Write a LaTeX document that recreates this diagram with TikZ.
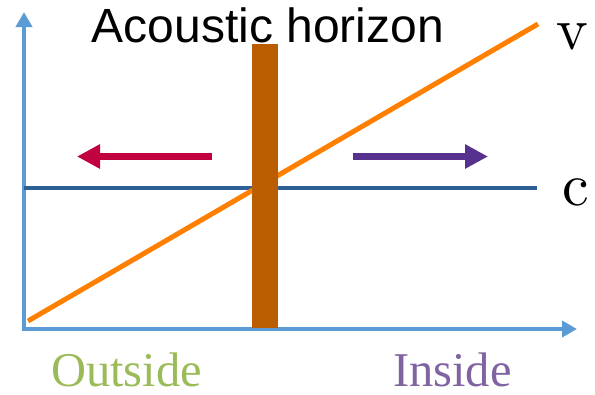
\documentclass[tikz,border=0pt]{standalone}
\usepackage{fontspec}
\newfontfamily\titlefont{Liberation Sans}
\newfontfamily\labelfont{Liberation Serif}
\newfontfamily\cmten{lmroman10-regular.otf}
\usetikzlibrary{arrows.meta}
\definecolor{axisblue}{HTML}{5B9BD5}
\definecolor{cblue}{HTML}{2E6096}
\definecolor{vorange}{HTML}{FF8000}
\definecolor{horizonbrown}{HTML}{BA5C00}
\definecolor{outred}{HTML}{C0003F}
\definecolor{inpurple}{HTML}{58308E}
\definecolor{outgreen}{HTML}{9BBB59}
\definecolor{inviolet}{HTML}{8064A2}
\tikzset{
  axisline/.style={draw=axisblue, line width=4.5pt, -{Triangle[length=15pt,width=16pt]}},
  flowarrow/.style={line width=6.5pt, -{Triangle[length=23pt,width=23pt]}},
  bigtext/.style={inner sep=0pt, anchor=base},
}
\begin{document}
\begin{tikzpicture}[x=1pt,y=-1pt]
\useasboundingbox (0,0) rectangle (595,394);
% axes
\coordinate (O) at (24,329);
\coordinate (ytop) at (24,12);
\coordinate (xend) at (577,329);
\coordinate (Ox) at (21.75,329);
\coordinate (Oy) at (24,331.25);
\draw[axisline] (Oy) -- (ytop);
\draw[axisline] (Ox) -- (xend);
% c line
\coordinate (cstart) at (24,188);
\coordinate (cend) at (537,188);
\draw[cblue, line width=4pt] (cstart) -- (cend);
% v line
\coordinate (vstart) at (28,321);
\coordinate (vend) at (538,24);
\draw[vorange, line width=5pt] (vstart) -- (vend);
% horizon bar
\fill[horizonbrown] (252,44) rectangle (278,328);
% flow arrows
\coordinate (rs) at (212,156.5);
\coordinate (re) at (77,156.5);
\draw[flowarrow, outred] (rs) -- (re);
\coordinate (ps) at (353,156.5);
\coordinate (pe) at (488,156.5);
\draw[flowarrow, inpurple] (ps) -- (pe);
% texts
\node[bigtext] (title) at (268,42) {\titlefont\fontsize{48}{52}\selectfont Acoustic horizon};
\node[bigtext] (vlab) at (572,49) {\cmten\fontsize{60}{64}\selectfont v};
\node[bigtext] (clab) at (575.5,205) {\cmten\fontsize{60}{64}\selectfont c};
\node[bigtext, text=outgreen] (outside) at (126.5,386.5) {\labelfont\fontsize{48.5}{50}\selectfont Outside};
\node[bigtext, text=inviolet] (inside) at (452.5,386.5) {\labelfont\fontsize{48.5}{50}\selectfont Inside};
\end{tikzpicture}
\end{document}
